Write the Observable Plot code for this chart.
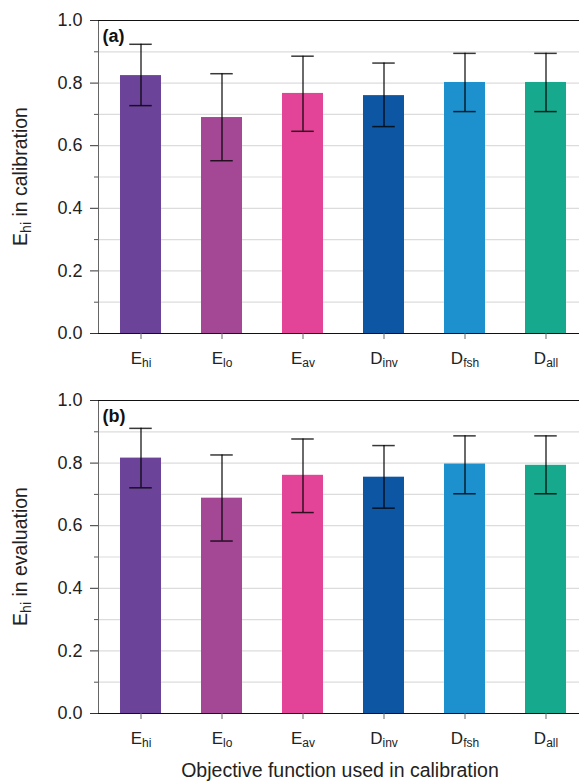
<!DOCTYPE html>
<html><head><meta charset="utf-8">
<script src="https://cdn.jsdelivr.net/npm/d3@7"></script>
<script src="https://cdn.jsdelivr.net/npm/@observablehq/plot@0.6"></script>
<style>body{margin:0;background:#fff}#chart{width:579px}svg{display:block}</style>
</head><body><div id="chart"></div>
<script>
const categories = ["Ehi","Elo","Eav","Dinv","Dfsh","Dall"];
const colors = ["#6b4499","#a44896","#e44497","#0c56a4","#1c91ce","#16a98e"];
const calMean = [0.824,0.690,0.767,0.760,0.802,0.802];
const calLow  = [0.728,0.552,0.646,0.661,0.709,0.709];
const calHigh = [0.924,0.830,0.886,0.864,0.895,0.895];
const evalMean = [0.816,0.688,0.761,0.755,0.797,0.793];
const evalLow  = [0.721,0.551,0.642,0.656,0.702,0.702];
const evalHigh = [0.911,0.826,0.877,0.856,0.887,0.887];
const majorTicks = [0,0.2,0.4,0.6,0.8,1.0];
const minorTicks = [0.1,0.3,0.5,0.7,0.9];
const gridValues = [0.1,0.2,0.3,0.4,0.5,0.6,0.7,0.8,0.9];
const font = "'Liberation Sans', Arial, Helvetica, sans-serif";

function subText(sel, main, sub, rest, subSize, dy) {
  sel.text(null);
  sel.append("tspan").text(main);
  sel.append("tspan").attr("font-size", subSize).attr("dy", dy).text(sub);
  if (rest) sel.append("tspan").attr("dy", -dy).text(rest);
}

function panel({mean, low, high, tag, height, marginBottom, ytitle, xtitle}) {
  const rows = categories.map((c, i) => ({cat: c, mean: mean[i], low: low[i], high: high[i]}));
  const ebar = {stroke: "#000", strokeOpacity: 0.78, strokeWidth: 1.5};
  const svg = Plot.plot({
    width: 579, height, marginTop: 20, marginBottom, marginLeft: 98, marginRight: 0,
    style: {fontFamily: font, background: "white", color: "#222", overflow: "visible"},
    x: {domain: categories, range: [99.5, 585.5], paddingInner: 0.5, paddingOuter: 0.25, label: null},
    y: {domain: [0, 1], label: null},
    color: {domain: categories, range: colors},
    marks: [
      Plot.ruleY(gridValues, {stroke: "#dcdcdc", strokeWidth: 1.2}),
      Plot.barY(rows, {x: "cat", y: "mean", fill: "cat"}),
      Plot.ruleX(rows, {x: "cat", y1: "low", y2: "high", ...ebar}),
      Plot.tickY(rows, {x: "cat", y: "low", insetLeft: 9.25, insetRight: 9.25, ...ebar}),
      Plot.tickY(rows, {x: "cat", y: "high", insetLeft: 9.25, insetRight: 9.25, ...ebar}),
      Plot.frame({anchor: "left", stroke: "#666"}),
      Plot.ruleY([0, 1], {stroke: "#111", strokeWidth: 1.2}),
      Plot.axisY(majorTicks, {tickSize: 8, tickPadding: 8, tickFormat: d3.format(".1f"), fontSize: 18, label: null, stroke: "#333", fill: "#222"}),
      Plot.axisY(minorTicks, {tickSize: 4, tickFormat: () => "", label: null, stroke: "#555"}),
      Plot.axisX({tickSize: 6, tickPadding: 12, fontSize: 17, label: null, stroke: "#666", fill: "#222"}),
      Plot.text([tag], {frameAnchor: "top-left", dx: 4, dy: 9, lineAnchor: "top", textAnchor: "start", fontWeight: "bold", fontSize: 18, fill: "#111"})
    ]
  });
  const s = d3.select(svg);
  s.selectAll('g[aria-label="x-axis tick label"] text').each(function() {
    const t = d3.select(this);
    const v = t.text();
    subText(t, v[0], v.slice(1), null, 12, 3);
  });
  const yt = s.append("text")
    .attr("transform", `translate(26.7,${20 + 313 / 2}) rotate(-90)`)
    .attr("text-anchor", "middle").attr("font-size", 19.5).attr("fill", "#222");
  subText(yt, "E", "hi", ytitle, 14, 4);
  if (xtitle) {
    s.append("text").attr("x", 340).attr("y", height - 6)
      .attr("text-anchor", "middle").attr("font-size", 19.5).attr("fill", "#222").text(xtitle);
  }
  return svg;
}

const chart = document.getElementById("chart");
chart.append(panel({mean: calMean, low: calLow, high: calHigh, tag: "(a)", height: 380, marginBottom: 47, ytitle: " in calibration"}));
chart.append(panel({mean: evalMean, low: evalLow, high: evalHigh, tag: "(b)", height: 403, marginBottom: 70, ytitle: " in evaluation", xtitle: "Objective function used in calibration"}));
</script></body></html>
